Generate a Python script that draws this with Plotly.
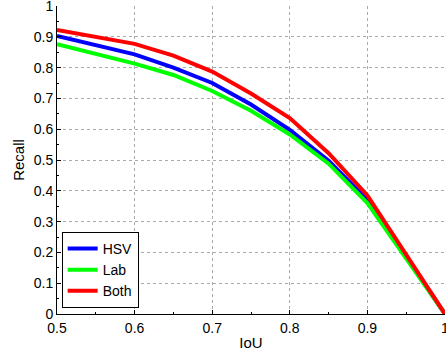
import plotly.graph_objects as go

iou = [0.5, 0.55, 0.6, 0.65, 0.7, 0.75, 0.8, 0.85, 0.9, 1.0]
hsv = [0.903, 0.873, 0.843, 0.800, 0.750, 0.680, 0.598, 0.498, 0.370, 0.0]
lab = [0.876, 0.845, 0.813, 0.776, 0.724, 0.660, 0.583, 0.488, 0.360, 0.0]
both = [0.922, 0.900, 0.877, 0.839, 0.787, 0.716, 0.636, 0.522, 0.385, 0.0]

series = [("HSV", hsv, "#0000ff"), ("Lab", lab, "#00ff00"), ("Both", both, "#ff0000")]

fig = go.Figure()
for name, vals, col in series:
    fig.add_trace(go.Scatter(x=iou, y=vals, mode="lines", name=name,
                             line=dict(color=col, width=4)))

fam = "Liberation Sans, Arial, sans-serif"
tickfont = dict(family=fam, size=14, color="#000")
titlefont = dict(family=fam, size=15, color="#000")

axis_common = dict(
    showgrid=True, gridcolor="#aaa", griddash="dot", gridwidth=1,
    showline=True, linecolor="#000", linewidth=1,
    ticks="inside", ticklen=4, tickcolor="#000",
    minor=dict(ticks="inside", ticklen=2, tickcolor="#000", showgrid=False),
    zeroline=False, tickfont=tickfont, mirror=False, automargin=False,
    ticklabeloverflow="allow",
)

fig.update_xaxes(range=[0.5, 1.0], tickvals=[0.5, 0.6, 0.7, 0.8, 0.9, 1.0],
                 ticktext=["0.5", "0.6", "0.7", "0.8", "0.9", "1"],
                 ticklabelstandoff=1,
                 title=dict(text="IoU", font=titlefont, standoff=2), **axis_common)
fig.update_yaxes(range=[0, 1.0], tickvals=[i / 10 for i in range(11)],
                 ticktext=["0", "0.1", "0.2", "0.3", "0.4", "0.5", "0.6", "0.7", "0.8", "0.9", "1"],
                 title=dict(text="Recall", font=titlefont, standoff=5), **axis_common)

fig.update_layout(
    width=446, height=356,
    margin=dict(l=57, r=1, t=6, b=42, autoexpand=False),
    plot_bgcolor="white", paper_bgcolor="white",
    font=tickfont,
    legend=dict(x=0.012, y=0.02, xanchor="left", yanchor="bottom",
                bgcolor="white", bordercolor="#000", borderwidth=1,
                font=dict(family=fam, size=14, color="#000"),
                tracegroupgap=0, itemwidth=30),
)

fig.write_html("out.html", config={"displayModeBar": False},
               post_script="document.body.style.margin='0';document.body.style.overflow='hidden';")
